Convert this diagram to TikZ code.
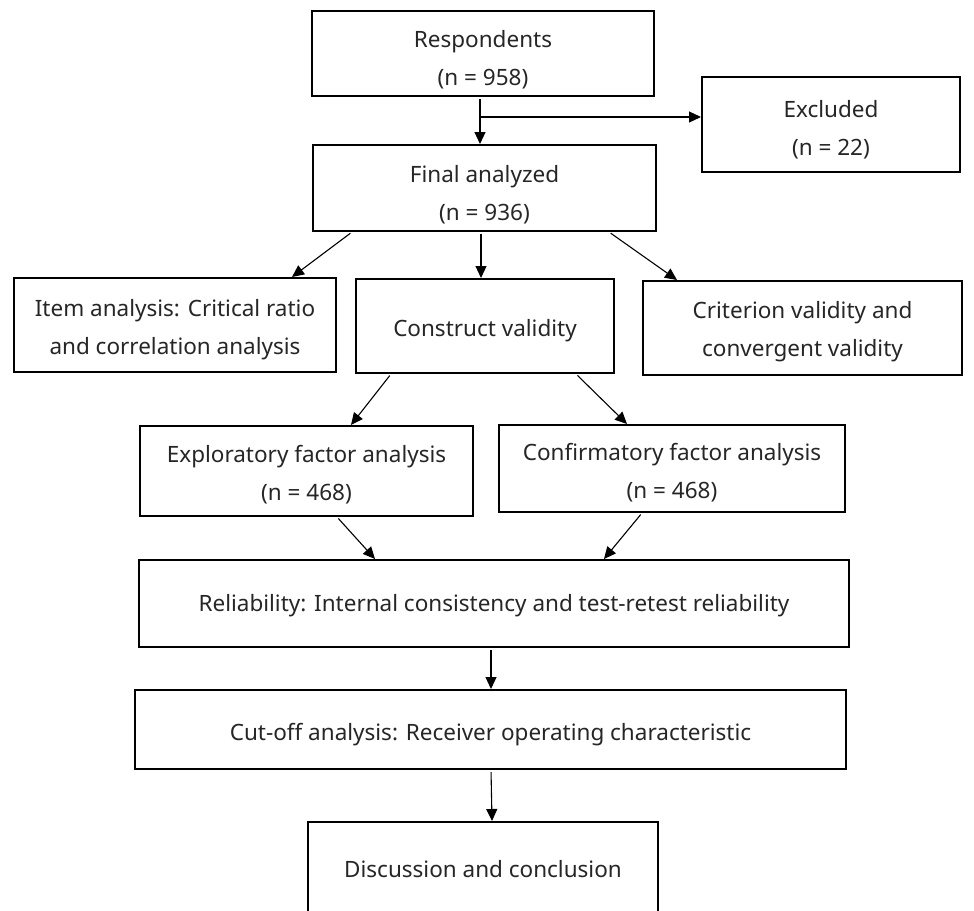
\documentclass[tikz,border=0pt]{standalone}
\usepackage{fontspec}
\setmainfont{Noto Sans}
\usetikzlibrary{arrows.meta}
\begin{document}
\begin{tikzpicture}[x=1pt,y=-1pt,
  box/.style={draw=black, line width=2pt, inner sep=0pt},
  txt/.style={align=center, inner sep=0pt, font=\fontsize{22.5}{38}\selectfont, text=black!85},
  arr/.style={line width=1.1pt, shorten <=2pt, -{Triangle[length=12pt,width=11pt]}}]
\clip (0,0) rectangle (974,910);
\fill[white] (0,0) rectangle (974,910);
\node[box, minimum width=342pt, minimum height=85pt, label={[txt,yshift=-6pt]center:Respondents\\(n = 958)}] (resp) at (483,53.5) {};
\node[box, minimum width=258pt, minimum height=95pt, label={[txt,yshift=-5.5pt]center:Excluded\\(n = 22)}] (excl) at (831,124.5) {};
\node[box, minimum width=343pt, minimum height=86pt, label={[txt,yshift=-6.5pt]center:Final analyzed\\(n = 936)}] (final) at (484.5,188) {};
\node[box, minimum width=322pt, minimum height=94pt, label={[txt,yshift=-5pt]center:Item analysis: Critical ratio\\and correlation analysis}] (item) at (175,325) {};
\node[box, minimum width=258pt, minimum height=94pt, label={[txt,yshift=-5pt]center:Construct validity}] (cons) at (485,326) {};
\node[box, minimum width=319pt, minimum height=94pt, label={[txt,yshift=-4pt]center:Criterion validity and\\convergent validity}] (crit) at (802.5,328) {};
\node[box, minimum width=333pt, minimum height=90pt, label={[txt,yshift=-3.5pt]center:Exploratory factor analysis\\(n = 468)}] (efa) at (306.5,471) {};
\node[box, minimum width=346pt, minimum height=87pt, label={[txt,yshift=-4.5pt]center:Confirmatory factor analysis\\(n = 468)}] (cfa) at (672,468.5) {};
\node[box, minimum width=710pt, minimum height=87pt, label={[txt,yshift=-2pt]center:Reliability: Internal consistency and test-retest reliability}] (rel) at (494,603.5) {};
\node[box, minimum width=711pt, minimum height=79pt, label={[txt,yshift=-5pt]center:Cut-off analysis: Receiver operating characteristic}] (cut) at (490.5,729.5) {};
\node[box, minimum width=350pt, minimum height=92pt, label={[txt,yshift=-1pt]center:Discussion and conclusion}] (disc) at (483,868) {};
% connectors
\draw[arr] ([xshift=-3pt]resp.south) -- ([xshift=-3pt]resp.south |- final.north);
\coordinate (j) at ([xshift=-3pt,yshift=-20pt]resp.south);
\draw[arr, shorten <=0pt] (j) -- (j -| excl.west);
\draw[arr] ([xshift=-132.5pt]final.south) -- ([xshift=117pt]item.north);
\draw[arr] ([xshift=-3.5pt]final.south) -- ([xshift=-4pt]cons.north);
\draw[arr] ([xshift=124.5pt]final.south) -- ([xshift=-125.5pt]crit.north);
\draw[arr] ([xshift=-94pt]cons.south) -- ([xshift=44.5pt]efa.north);
\draw[arr] ([xshift=91pt]cons.south) -- ([xshift=-45pt]cfa.north);
\draw[arr] ([xshift=30.5pt]efa.south) -- ([xshift=-119pt]rel.north);
\draw[arr] ([xshift=-30pt]cfa.south) -- ([xshift=110pt]rel.north);
\draw[arr] ([xshift=-3pt]rel.south) -- ([xshift=0.5pt]cut.north);
\draw[arr] ([xshift=0.5pt]cut.south) -- ([xshift=9pt]disc.north);
\end{tikzpicture}
\end{document}
